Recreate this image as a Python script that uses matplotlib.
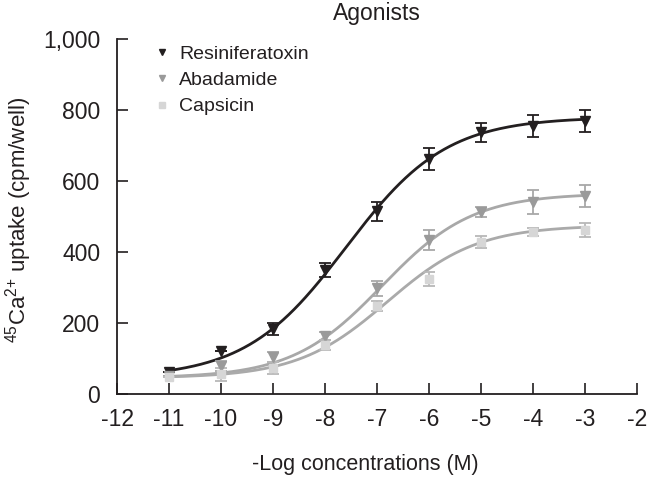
import numpy as np
import matplotlib
matplotlib.use("Agg")
import matplotlib.pyplot as plt

plt.rcParams['font.family'] = ['Liberation Sans', 'DejaVu Sans']
plt.rcParams['mathtext.fontset'] = 'custom'
plt.rcParams['mathtext.rm'] = 'Liberation Sans'
plt.rcParams['mathtext.it'] = 'Liberation Sans'
plt.rcParams['mathtext.bf'] = 'Liberation Sans:bold'

log_conc = [-11, -10, -9, -8, -7, -6, -5, -4, -3]

rtx_mean = [62, 121, 182, 349, 515, 662, 737, 755, 769]
rtx_err = [0, 0, 17, 20, 27, 30, 27, 30, 31]
aba_mean = [50, 79, 104, 163, 298, 434, 513, 541, 558]
aba_err = [0, 15, 15, 12, 21, 28, 15, 33, 31]
cap_mean = [48, 56, 73, 138, 248, 324, 428, 456, 462]
cap_err = [0, 18, 18, 15, 14, 20, 16, 12, 20]

# fitted Hill curve parameters: bottom, top, logEC50, hill slope
rtx_fit = [45, 780, -7.6, 0.45]
aba_fit = [45, 565, -6.9, 0.5]
cap_fit = [45, 475, -6.8, 0.5]

names = ["Resiniferatoxin", "Abadamide", "Capsicin"]
xticks = list(range(-12, -1))
yticks = [0, 200, 400, 600, 800, 1000]
ytick_labels = ["0", "200", "400", "600", "800", "1,000"]


def hill(x, p):
    b, t, ec, h = p
    return b + (t - b) / (1 + 10 ** ((ec - x) * h))


fig = plt.figure(figsize=(6.54, 4.82), dpi=100)
ax = fig.add_axes([117 / 654, 1 - 394 / 482, 520 / 654, 355 / 482])

xs = np.linspace(-11, -3, 300)
series = [
    (rtx_mean, rtx_err, rtx_fit, 'v', '#231f20', '#231f20', '#231f20', 7),
    (aba_mean, aba_err, aba_fit, 'v', '#9a9a9a', '#a8a8a8', '#a8a8a8', 7),
    (cap_mean, cap_err, cap_fit, 's', '#d6d6d6', '#aaaaaa', '#b8b8b8', 6),
]
handles = []
for (m, e, p, mk, mc, lc, ec, ms), nm in zip(series, names):
    ax.plot(xs, hill(xs, p), color=lc, lw=2, zorder=2)
    ax.errorbar(log_conc, m, yerr=e, fmt='none', ecolor=ec, elinewidth=1.3,
                capsize=4, capthick=1.3, zorder=3)
    ax.plot(log_conc, m, ls='none', marker=mk, color=mc, ms=ms, zorder=4)
    h, = ax.plot([], [], ls='none', marker=mk, color=mc, ms=5 if mk == 'v' else 4.5, label=nm)
    handles.append(h)

ax.set_xlim(-12, -2)
ax.set_ylim(0, 1000)
ax.set_xticks(xticks)
ax.set_xticklabels([str(t) for t in xticks])
ax.set_yticks(yticks)
ax.set_yticklabels(ytick_labels)
for s in ['top', 'right']:
    ax.spines[s].set_visible(False)
for s in ['left', 'bottom']:
    ax.spines[s].set_color('#231f20')
    ax.spines[s].set_linewidth(1.3)
ax.tick_params(axis='both', direction='in', length=8, width=1.2, color='#231f20',
               labelsize=16.5, labelcolor='#231f20')
ax.tick_params(axis='y', pad=12)
ax.tick_params(axis='x', pad=10)

ax.set_title("Agonists", fontsize=16.5, color='#231f20', pad=14)
ax.set_xlabel("-Log concentrations (M)", fontsize=15.5, color='#231f20', labelpad=16)
ax.xaxis.set_label_coords(0.478, -0.17)
ax.set_ylabel(r"$^{45}$Ca$^{2{+}}$ uptake (cpm/well)", fontsize=16, color='#231f20')
ax.yaxis.set_label_coords(-0.16, 0.49)

leg = ax.legend(handles=handles, loc='upper left', bbox_to_anchor=(0.06, 1.005),
                frameon=False, fontsize=14, handlelength=0.6, handletextpad=0.6,
                labelspacing=0.45, borderaxespad=0.0)
for t in leg.get_texts():
    t.set_color('#231f20')

fig.savefig("out.png", dpi=100)
